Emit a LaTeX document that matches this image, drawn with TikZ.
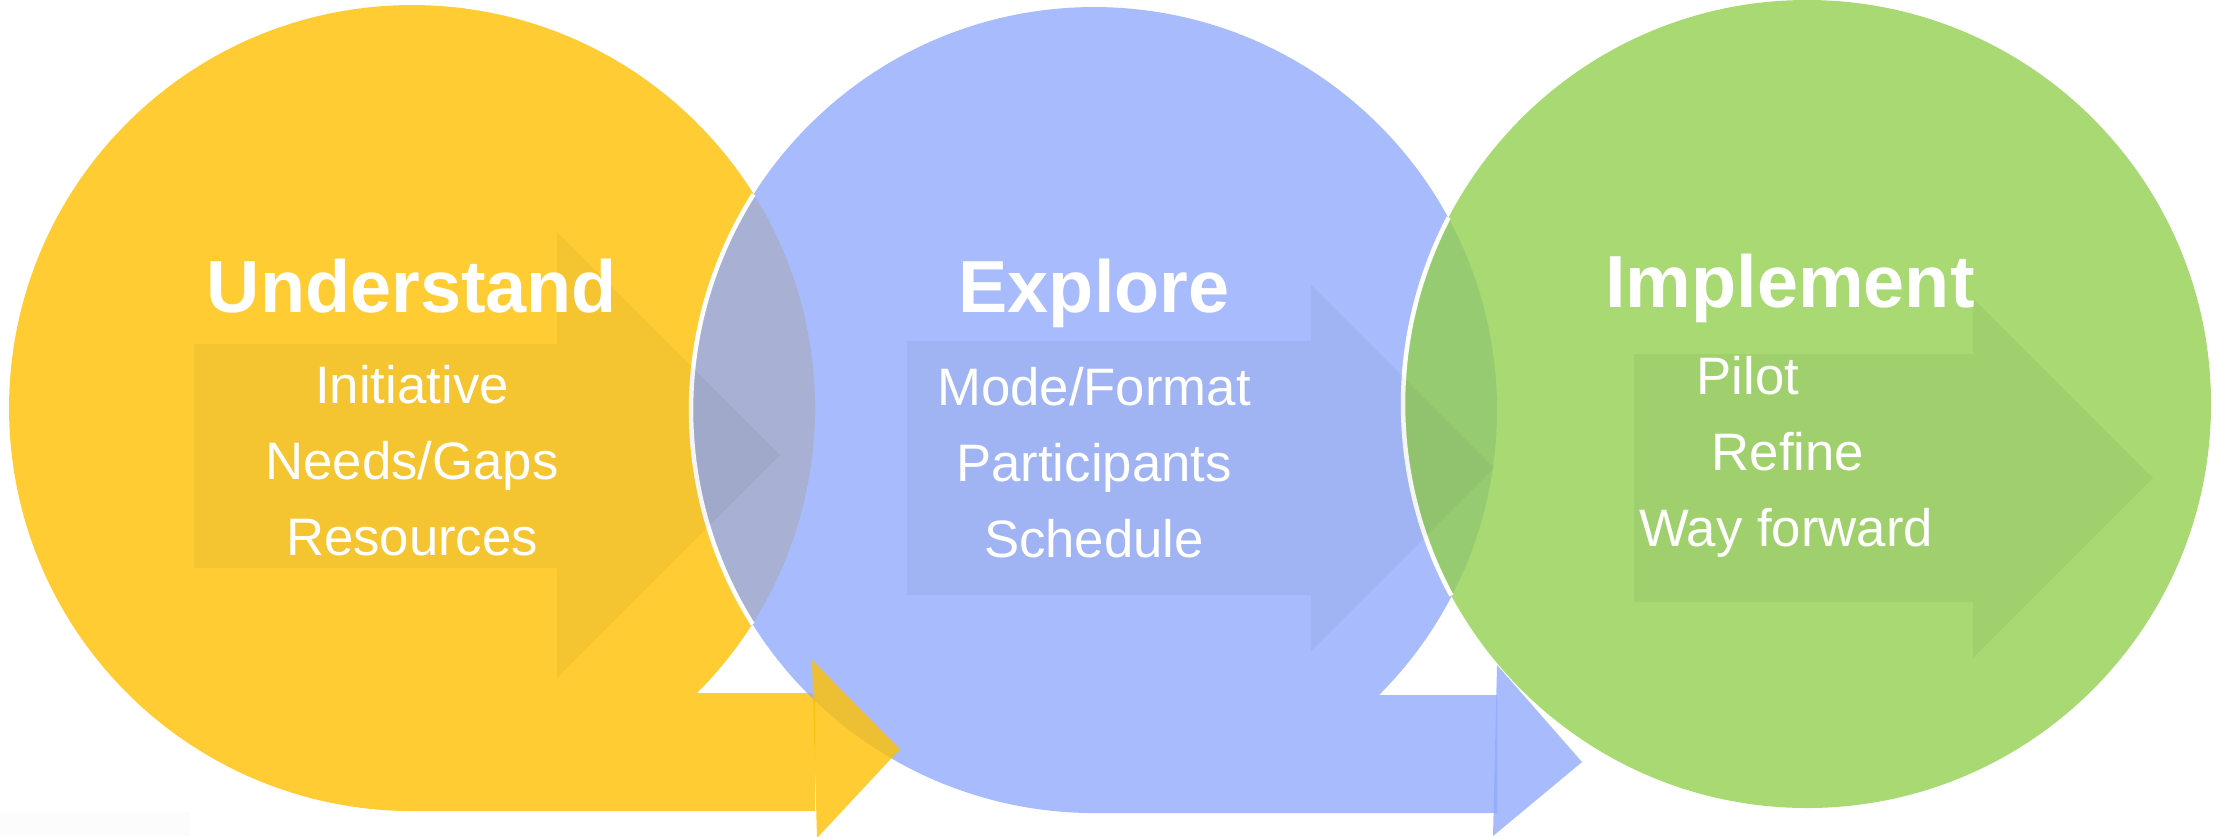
\documentclass[tikz,border=0pt]{standalone}
\usepackage{fontspec}
\setmainfont{Liberation Sans}
\definecolor{cyel}{HTML}{FFC000}
\definecolor{cblu}{HTML}{92AAFC}
\definecolor{cgrn}{HTML}{92D050}
\begin{document}
\begin{tikzpicture}[x=0.1mm, y=-0.1mm,
  tapefill/.style={fill opacity=0.8},
  chev/.style={fill=black, fill opacity=0.04},
  rim/.style={draw=white, line width=0.45mm},
  ttl/.style={text=white, font=\fontsize{21}{25}\selectfont\bfseries, anchor=base, inner sep=0pt},
  itm/.style={text=white, font=\fontsize{15}{18}\selectfont, anchor=base, inner sep=0pt}]
\useasboundingbox (0,0) rectangle (2216,836);
\clip (0,0) rectangle (2216,836);
% faint strip
\fill[black!1] (0,812) rectangle (190,836);
% yellow tape shape
\fill[cyel, tapefill] (697,693) arc[start angle=45, end angle=-270, radius=403] -- (815,811) -- (815,693) -- cycle;
% blue tape shape
\fill[cblu, tapefill] (1379,695) arc[start angle=45, end angle=-270, radius=403] -- (1497,813) -- (1497,695) -- cycle;
\draw[rim] (1094,410) ++(147.9:403) arc[start angle=147.9, end angle=212.35, radius=403];
% yellow arrow head
\fill[cyel, tapefill] (812,660) -- (900,749) -- (817,838) -- cycle;
% green circle
\fill[cgrn, tapefill] (1807,404) circle[radius=404];
\draw[rim] (1807,404) ++(151.7:404) arc[start angle=151.7, end angle=207.5, radius=404];
% blue arrow head
\fill[cblu, tapefill] (1497,665) -- (1582,762) -- (1493,836) -- cycle;
% inner chevrons
\fill[chev] (194,344) -- (557,344) -- (557,232) -- (780,455) -- (557,678) -- (557,568) -- (194,568) -- cycle;
\fill[chev] (907,341) -- (1311,341) -- (1311,285) -- (1494,468) -- (1311,651) -- (1311,595) -- (907,595) -- cycle;
\fill[chev] (1634,354) -- (1973,354) -- (1973,298) -- (2153,478) -- (1973,658) -- (1973,602) -- (1634,602) -- cycle;
% texts
\node[ttl] (t1) at (412,312) {Understand};
\node[itm] (a1) at (412,403) {Initiative};
\node[itm] (a2) at (412,479) {Needs/Gaps};
\node[itm] (a3) at (412,555) {Resources};
\node[ttl] (t2) at (1094,312) {Explore};
\node[itm] (b1) at (1094,405) {Mode/Format};
\node[itm] (b2) at (1094,481) {Participants};
\node[itm] (b3) at (1094,557) {Schedule};
\node[ttl] (t3) at (1790,307) {Implement};
\node[itm] (c1) at (1748,394) {Pilot};
\node[itm] (c2) at (1788,470) {Refine};
\node[itm] (c3) at (1786,546) {Way forward};
\end{tikzpicture}
\end{document}
